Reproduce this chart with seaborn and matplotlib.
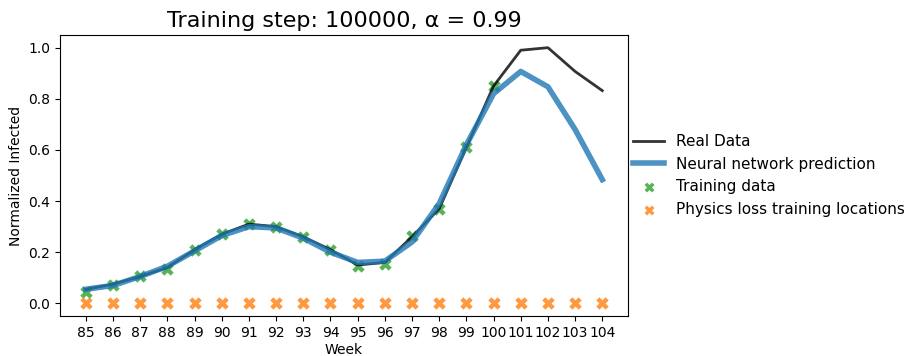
import matplotlib
matplotlib.use("Agg")
import matplotlib.pyplot as plt
import seaborn as sns
import pandas as pd

weeks = list(range(85, 105))
real_data = [0.055, 0.075, 0.105, 0.14, 0.21, 0.27, 0.31, 0.30, 0.26, 0.21,
             0.15, 0.16, 0.26, 0.37, 0.61, 0.85, 0.99, 1.0, 0.907, 0.832]
nn_pred = [0.055, 0.07, 0.105, 0.145, 0.205, 0.265, 0.30, 0.295, 0.255, 0.20,
           0.16, 0.165, 0.24, 0.39, 0.62, 0.82, 0.907, 0.847, 0.68, 0.484]
train_weeks = list(range(85, 101))
train_data = [0.045, 0.07, 0.105, 0.135, 0.21, 0.27, 0.31, 0.30, 0.26, 0.21,
              0.145, 0.155, 0.265, 0.37, 0.61, 0.85]
phys_weeks = list(range(85, 105))
phys_vals = [0.0] * 20

fig = plt.figure(figsize=(9.09, 3.56), dpi=100)
ax = fig.add_axes([0.066, 0.112, 0.625, 0.79])

df_real = pd.DataFrame({"week": weeks, "val": real_data})
df_nn = pd.DataFrame({"week": weeks, "val": nn_pred})
df_tr = pd.DataFrame({"week": train_weeks, "val": train_data})
df_ph = pd.DataFrame({"week": phys_weeks, "val": phys_vals})

sns.lineplot(data=df_real, x="week", y="val", ax=ax, color="black", alpha=0.8,
             linewidth=2, label="Real Data")
sns.lineplot(data=df_nn, x="week", y="val", ax=ax, color="tab:blue", alpha=0.8,
             linewidth=4, label="Neural network prediction")
sns.scatterplot(data=df_tr, x="week", y="val", ax=ax, color="tab:green", marker="X",
                s=80, alpha=0.8, linewidth=0, label="Training data")
sns.scatterplot(data=df_ph, x="week", y="val", ax=ax, color="tab:orange", marker="X",
                s=80, alpha=0.8, linewidth=0, label="Physics loss training locations")

ax.set_xticks(weeks)
ax.set_xticklabels([str(w) for w in weeks])
ax.set_yticks([0.0, 0.2, 0.4, 0.6, 0.8, 1.0])
ax.set_xlabel("Week", labelpad=2)
ax.set_ylabel("Normalized Infected")
ax.set_title("Training step: 100000, α = 0.99", fontsize=16)
ax.legend(loc="center left", bbox_to_anchor=(0.985, 0.5), frameon=False, fontsize=11,
          markerscale=0.8)

fig.savefig("out.png", dpi=100)
